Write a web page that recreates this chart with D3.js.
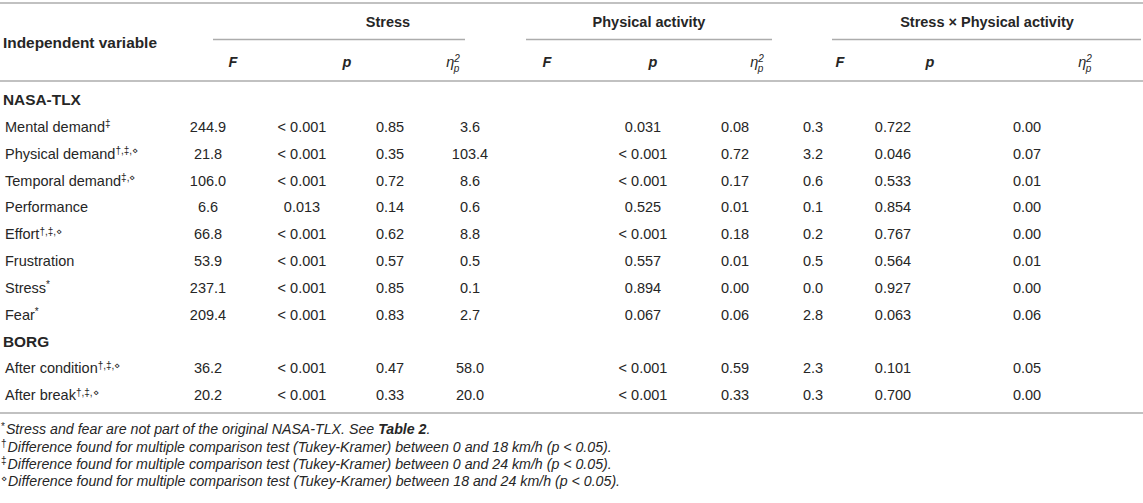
<!DOCTYPE html>
<head>
<meta charset="utf-8">
<script src="https://cdn.jsdelivr.net/npm/d3@7"></script>
<style>
body { margin: 0; background: #fff; }
svg { font-family: "Liberation Sans", Arial, sans-serif; fill: #262626; }
.rule { stroke: #acacac; stroke-width: 1.5; }
.head { font-weight: bold; font-size: 14.5px; }
.left { font-size: 15.4px; }
.cell { font-size: 14.5px; }
.note { font-size: 14.2px; font-style: italic; }
</style>
</head>
<body>
<script>

// table content
var labels = ["Mental demand", "Physical demand", "Temporal demand", "Performance", "Effort",
              "Frustration", "Stress", "Fear", "After condition", "After break"]
var marks  = ["‡", "†,‡,⋄", "‡,⋄", "", "†,‡,⋄", "", "*", "*", "†,‡,⋄", "†,‡,⋄"]
var sections = ["NASA-TLX", "BORG"]
var sectionStart = [0, 8]

var stressF   = ["244.9", "21.8", "106.0", "6.6", "66.8", "53.9", "237.1", "209.4", "36.2", "20.2"]
var stressP   = ["< 0.001", "< 0.001", "< 0.001", "0.013", "< 0.001", "< 0.001", "< 0.001", "< 0.001", "< 0.001", "< 0.001"]
var stressEta = ["0.85", "0.35", "0.72", "0.14", "0.62", "0.57", "0.85", "0.83", "0.47", "0.33"]
var paF   = ["3.6", "103.4", "8.6", "0.6", "8.8", "0.5", "0.1", "2.7", "58.0", "20.0"]
var paP   = ["0.031", "< 0.001", "< 0.001", "0.525", "< 0.001", "0.557", "0.894", "0.067", "< 0.001", "< 0.001"]
var paEta = ["0.08", "0.72", "0.17", "0.01", "0.18", "0.01", "0.00", "0.06", "0.59", "0.33"]
var intF   = ["0.3", "3.2", "0.6", "0.1", "0.2", "0.5", "0.0", "2.8", "2.3", "0.3"]
var intP   = ["0.722", "0.046", "0.533", "0.854", "0.767", "0.564", "0.927", "0.063", "0.101", "0.700"]
var intEta = ["0.00", "0.07", "0.01", "0.00", "0.00", "0.01", "0.00", "0.06", "0.05", "0.00"]

var groups = ["Stress", "Physical activity", "Stress × Physical activity"]
var stats  = ["F", "p", "eta"]
var columns = [stressF, stressP, stressEta, paF, paP, paEta, intF, intP, intEta]

var notes = [
  ["*", "Stress and fear are not part of the original NASA-TLX. See ", "Table 2", "."],
  ["†", "Difference found for multiple comparison test (Tukey-Kramer) between 0 and 18 km/h (p < 0.05).", "", ""],
  ["‡", "Difference found for multiple comparison test (Tukey-Kramer) between 0 and 24 km/h (p < 0.05).", "", ""],
  ["⋄", "Difference found for multiple comparison test (Tukey-Kramer) between 18 and 24 km/h (p < 0.05).", "", ""]
]

var width = 1143, height = 503

var svg = d3.select("body").append("svg")
    .attr("width", width)
    .attr("height", height)

// body rows: section headings interleaved with variables
var rows = []
labels.forEach(function(l, i) {
    var s = sectionStart.indexOf(i)
    if (s >= 0) rows.push({section: sections[s]})
    rows.push({label: l, mark: marks[i], idx: i})
})

var y = d3.scalePoint()
    .domain(d3.range(rows.length))
    .range([100, 395])

var colKeys = d3.range(columns.length)
var xData = d3.scaleOrdinal()
    .domain(colKeys)
    .range([208, 302, 390, 470, 643, 735, 813, 893, 1027])
var xHead = d3.scaleOrdinal()
    .domain(colKeys)
    .range([233, 347, 453, 547, 653, 757, 840, 930, 1085])
var xGroup = d3.scaleOrdinal()
    .domain(groups)
    .range([[213, 465], [526, 772], [832, 1141]])
var xGroupLabel = d3.scaleOrdinal()
    .domain(groups)
    .range([388, 649, 987])

// rules
var rules = [3, 81, 413]
svg.selectAll("line.full")
    .data(rules)
    .enter().append("line")
    .attr("class", "rule full")
    .attr("x1", 0).attr("x2", width)
    .attr("y1", d => d).attr("y2", d => d)

svg.selectAll("line.group")
    .data(groups)
    .enter().append("line")
    .attr("class", "rule group")
    .attr("x1", d => xGroup(d)[0]).attr("x2", d => xGroup(d)[1])
    .attr("y1", 39.5).attr("y2", 39.5)

// header
svg.append("text")
    .attr("class", "head left")
    .attr("x", 3).attr("y", 43).attr("dy", "0.35em")
    .text("Independent variable")

svg.selectAll("text.group")
    .data(groups)
    .enter().append("text")
    .attr("class", "head group")
    .attr("text-anchor", "middle")
    .attr("x", d => xGroupLabel(d))
    .attr("y", 22).attr("dy", "0.35em")
    .text(d => d)

var sub = svg.selectAll("text.stat")
    .data(colKeys)
    .enter().append("text")
    .attr("class", "head stat")
    .attr("text-anchor", "middle")
    .attr("x", d => xHead(d))
    .attr("y", 62).attr("dy", "0.35em")
    .style("font-style", "italic")

sub.filter(d => stats[d % 3] != "eta").text(d => stats[d % 3])
sub.filter(d => stats[d % 3] == "eta").each(function() {
    var t = d3.select(this).style("font-weight", "normal")
    t.append("tspan").text("η")
    t.append("tspan").attr("dy", "-0.5em").attr("font-size", "10px").text("2")
    t.append("tspan").attr("dx", "-6").attr("dy", "0.95em").attr("font-size", "10px").text("p")
})

// body
rows.forEach(function(r, k) {
    if (r.section) {
        svg.append("text")
            .attr("class", "head left")
            .attr("x", 3).attr("y", y(k)).attr("dy", "0.35em")
            .text(r.section)
        return
    }
    var t = svg.append("text")
        .attr("class", "cell left")
        .attr("x", 5).attr("y", y(k)).attr("dy", "0.35em")
    t.append("tspan").text(r.label)
    if (r.mark) t.append("tspan").attr("font-size", "10px").attr("dy", "-0.45em").text(r.mark)

    svg.selectAll(null)
        .data(colKeys)
        .enter().append("text")
        .attr("class", "cell")
        .attr("text-anchor", "middle")
        .attr("x", c => xData(c))
        .attr("y", y(k)).attr("dy", "0.35em")
        .text(c => columns[c][r.idx])
})

// footnotes
var yNote = d3.scalePoint()
    .domain(d3.range(notes.length))
    .range([433, 485])

notes.forEach(function(n, i) {
    var t = svg.append("text")
        .attr("class", "note")
        .attr("x", 1).attr("y", yNote(i)).attr("dy", "0.35em")
    t.append("tspan").attr("font-size", "10px").attr("dy", "-0.35em").style("font-style", "normal").text(n[0])
    t.append("tspan").attr("dy", "0.35em").attr("dx", 1).text(n[1])
    if (n[2]) t.append("tspan").style("font-weight", "bold").text(n[2])
    if (n[3]) t.append("tspan").text(n[3])
})

</script>
</body>
</html>
